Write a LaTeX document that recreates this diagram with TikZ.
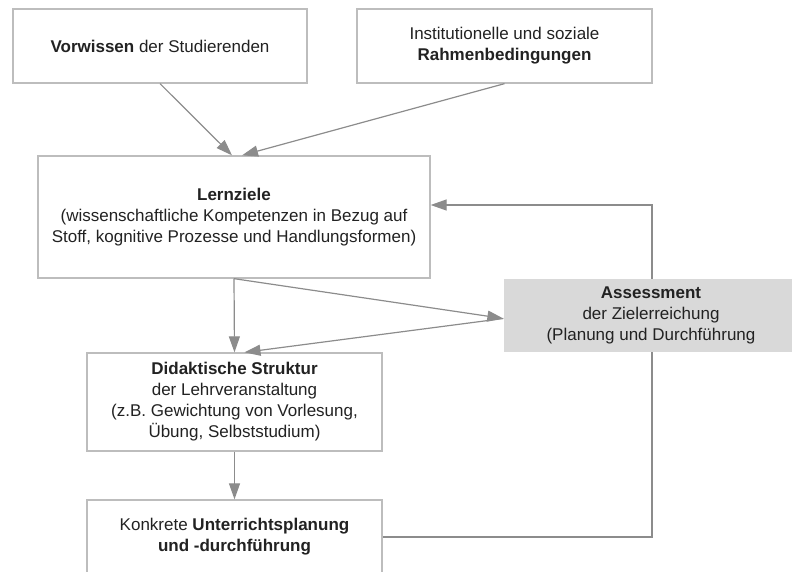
\documentclass[tikz,border=0pt]{standalone}
\usepackage{fontspec}
\setmainfont{Liberation Sans}
\usetikzlibrary{arrows.meta,backgrounds}
\definecolor{boxgray}{HTML}{BDBDBD}
\definecolor{linegray}{HTML}{8C8C8C}
\definecolor{fillgray}{HTML}{D9D9D9}
\definecolor{txt}{HTML}{222222}
\newcommand{\myfs}{\fontsize{17pt}{21pt}\selectfont}
\tikzset{
  box/.style={draw=boxgray, line width=1.3pt, fill=white, align=center,
    inner sep=0pt, font=\myfs, text=txt},
  grbox/.style={box, draw=none, fill=fillgray},
  arr/.style={draw=linegray, line width=1.2pt, -{Triangle[length=16pt,width=11pt]}},
  ln/.style={draw=linegray, line width=1.2pt}
}
\begin{document}
\begin{tikzpicture}[x=1pt,y=-1pt]
\useasboundingbox (0,0) rectangle (792,572);
\node[box, minimum width=294pt, minimum height=74pt] (vw) at (160,46)
  {\textbf{Vorwissen} der Studierenden};
\node[box, minimum width=295pt, minimum height=74pt] (ir) at (504.5,46)
  {Institutionelle und soziale\\\textbf{Rahmenbedingungen}};
\node[box, minimum width=392pt, minimum height=122pt] (lz) at (234,217)
  {\textbf{Lernziele}\\(wissenschaftliche Kompetenzen in Bezug auf\\Stoff, kognitive Prozesse und Handlungsformen)};
\node[grbox, minimum width=294pt, minimum height=73pt] (as) at (651,315.5)
  {\textbf{Assessment}\\der Zielerreichung\\(Planung und Durchführung};
\node[box, minimum width=295pt, minimum height=98pt] (dk) at (234.5,402)
  {\textbf{Didaktische Struktur}\\der Lehrveranstaltung\\(z.B. Gewichtung von Vorlesung,\\Übung, Selbststudium)};
\node[box, minimum width=295pt, minimum height=74pt] (uk) at (234.5,537)
  {Konkrete \textbf{Unterrichtsplanung}\\\textbf{und -durchführung}};
\coordinate (fb) at (652,205);
\begin{pgfonlayer}{background}
\draw[arr] (uk.east) -| (fb) -- (lz.east |- fb);
\end{pgfonlayer}
\draw[arr] (vw.south) -- ([xshift=-2pt]lz.north);
\draw[arr] (ir.south) -- ([xshift=8pt]lz.north);
\draw[arr] (lz.south) -- (dk.north);
\draw[arr] (lz.south) -- ([yshift=-3pt]as.west);
\draw[arr] ([yshift=-3pt]as.west) -- ([xshift=10pt]dk.north);
\draw[arr] (dk.south) -- (uk.north);
\end{tikzpicture}
\end{document}
